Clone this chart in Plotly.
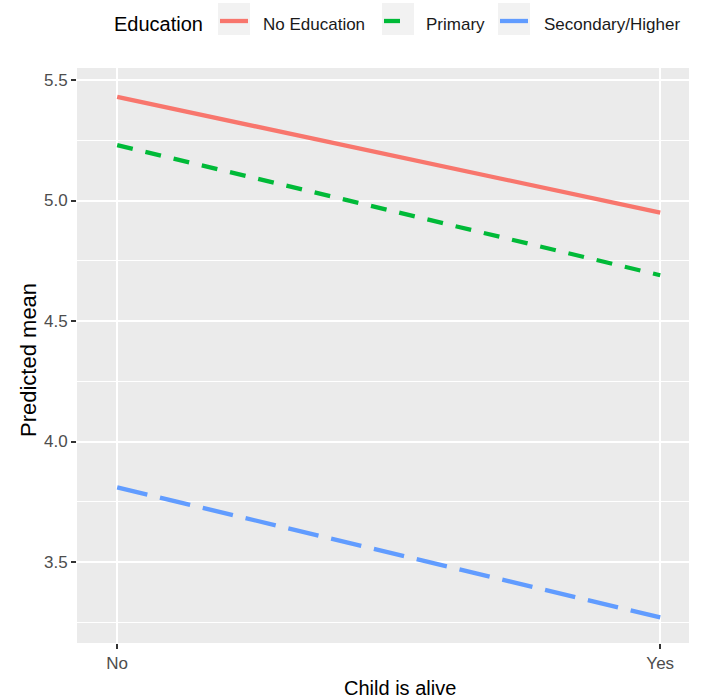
import plotly.graph_objects as go

# Predicted means by education level and child survival status
child_alive = ["No", "Yes"]
education_levels = ["No Education", "Primary", "Secondary/Higher"]
no_education = [5.43, 4.95]
primary = [5.23, 4.69]
secondary_higher = [3.81, 3.27]

y_tick_vals = [3.5, 4.0, 4.5, 5.0, 5.5]
y_tick_text = ["3.5", "4.0", "4.5", "5.0", "5.5"]

series = [no_education, primary, secondary_higher]
colors = ["#F8766D", "#00BA38", "#619CFF"]
dashes = ["solid", "16px,13px", "31px,13px"]

W, H = 703, 700
ML, MR, MT, MB = 77, 14, 68, 57
PW, PH = W - ML - MR, H - MT - MB
FONT = "Liberation Sans, Arial, sans-serif"

x_pos = list(range(1, len(child_alive) + 1))

fig = go.Figure()
for name, vals, col, dash in zip(education_levels, series, colors, dashes):
    fig.add_trace(go.Scatter(
        x=x_pos, y=vals, mode="lines", name=name,
        line=dict(color=col, width=4.3, dash=dash),
        showlegend=False,
    ))


def px_x(p):
    return (p - ML) / PW


def px_y(p):
    return (H - MB - p) / PH


shapes = []
annotations = []

# Legend drawn across the top
annotations.append(dict(
    x=px_x(112), y=px_y(24), xref="paper", yref="paper",
    text="Education", showarrow=False, xanchor="left", yanchor="middle",
    font=dict(family=FONT, size=20, color="#000000"),
))
key_boxes = [(218, 250), (382, 414), (498, 530)]
label_x = [261, 424, 542]
for (x0, x1), lx, name, col, dash in zip(key_boxes, label_x, education_levels, colors, dashes):
    shapes.append(dict(
        type="rect", xref="paper", yref="paper",
        x0=px_x(x0), x1=px_x(x1), y0=px_y(35), y1=px_y(3),
        fillcolor="#F2F2F2", line=dict(width=0), layer="below",
    ))
    shapes.append(dict(
        type="line", xref="paper", yref="paper",
        x0=px_x(x0 + 2), x1=px_x(x1 - 2), y0=px_y(21), y1=px_y(21),
        line=dict(color=col, width=4.3, dash=dash),
    ))
    annotations.append(dict(
        x=px_x(lx), y=px_y(24), xref="paper", yref="paper",
        text=name, showarrow=False, xanchor="left", yanchor="middle",
        font=dict(family=FONT, size=17, color="#1A1A1A"),
    ))

# Axis titles
annotations.append(dict(
    x=px_x(400), y=px_y(688), xref="paper", yref="paper",
    text="Child is alive", showarrow=False, xanchor="center", yanchor="middle",
    font=dict(family=FONT, size=20, color="#000000"),
))
annotations.append(dict(
    x=px_x(28), y=px_y(360), xref="paper", yref="paper",
    text="Predicted mean", showarrow=False, xanchor="center", yanchor="middle",
    textangle=-90,
    font=dict(family=FONT, size=22, color="#000000"),
))

fig.update_layout(
    width=W, height=H,
    margin=dict(l=ML, r=MR, t=MT, b=MB, autoexpand=False),
    paper_bgcolor="white",
    plot_bgcolor="#EBEBEB",
    font=dict(family=FONT),
    shapes=shapes,
    annotations=annotations,
    showlegend=False,
)
fig.update_xaxes(
    range=[0.926, 2.053],
    tickvals=x_pos, ticktext=child_alive,
    showgrid=True, gridcolor="white", gridwidth=2,
    zeroline=False, showline=False,
    ticks="outside", ticklen=5, tickwidth=2, tickcolor="#333333",
    tickfont=dict(family=FONT, size=17, color="#4D4D4D"),
)
fig.update_yaxes(
    range=[3.164, 5.55],
    tickvals=y_tick_vals, ticktext=y_tick_text,
    showgrid=True, gridcolor="white", gridwidth=2,
    minor=dict(dtick=0.25, tick0=3.25, showgrid=True, gridcolor="white", gridwidth=1, ticks=""),
    zeroline=False, showline=False,
    ticks="outside", ticklen=5, tickwidth=2, tickcolor="#333333",
    tickfont=dict(family=FONT, size=17, color="#4D4D4D"),
)

fig.write_html("out.html")
